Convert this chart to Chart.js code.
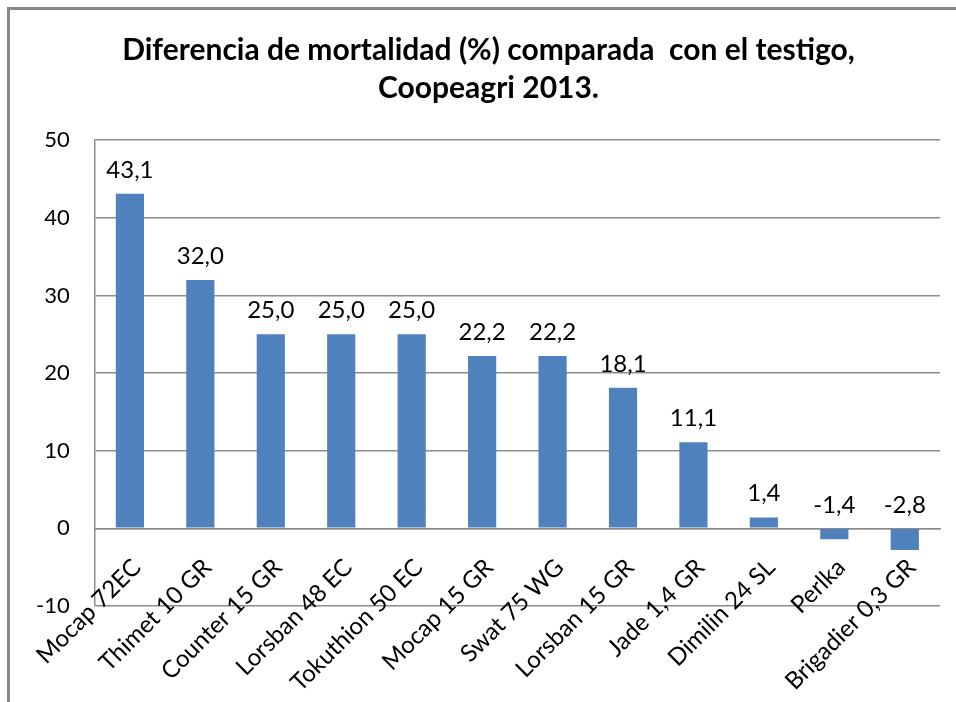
<!DOCTYPE html>
<html>
<head>
<meta charset="utf-8">
<script src="https://cdn.jsdelivr.net/npm/chart.js@4/dist/chart.umd.min.js"></script>
<style>
  html, body { margin: 0; padding: 0; background: #fff; }
  #wrap { position: relative; width: 956px; height: 702px; overflow: hidden; }
  #frame { position: absolute; left: 7px; top: 7px; width: 1000px; height: 800px;
           border-left: 3px solid #878787; border-top: 3px solid #878787; }
  canvas { position: absolute; left: 0; top: 0; }
</style>
</head>
<body>
<div id="wrap">
  <div id="frame"></div>
  <canvas id="c" width="956" height="702"></canvas>
</div>
<script>
const categories = ["Mocap 72EC", "Thimet 10 GR", "Counter 15 GR", "Lorsban 48 EC", "Tokuthion 50 EC",
  "Mocap 15 GR", "Swat 75 WG", "Lorsban 15 GR", "Jade 1,4 GR", "Dimilin 24 SL", "Perlka", "Brigadier 0,3 GR"];
const mortalityDiff = [43.1, 32.0, 25.0, 25.0, 25.0, 22.2, 22.2, 18.1, 11.1, 1.4, -1.4, -2.8];
const titleLines = ["Diferencia de mortalidad (%) comparada  con el testigo,", "Coopeagri 2013."];
const yMin = -10, yMax = 50, yStep = 10;

const fmt = v => v.toFixed(1).replace('.', ',');

const valueLabels = {
  id: 'valueLabels',
  afterDatasetsDraw(chart) {
    const ctx = chart.ctx;
    const meta = chart.getDatasetMeta(0);
    ctx.save();
    ctx.font = '24px Lato';
    ctx.fillStyle = '#000';
    ctx.textAlign = 'center';
    ctx.textBaseline = 'middle';
    meta.data.forEach((el, i) => {
      const v = chart.data.datasets[0].data[i];
      const top = Math.min(el.y, el.base);
      ctx.fillText(fmt(v), el.x, top - 24);
    });
    ctx.restore();
  }
};

// category labels, rotated 45°, hung from the zero line like the original
const categoryLabels = {
  id: 'categoryLabels',
  afterDraw(chart) {
    const ctx = chart.ctx;
    const xs = chart.scales.x, ys = chart.scales.y;
    const y0 = ys.getPixelForValue(0);
    ctx.save();
    ctx.font = '24px Lato';
    ctx.fillStyle = '#000';
    ctx.textAlign = 'right';
    ctx.textBaseline = 'middle';
    chart.data.labels.forEach((lab, i) => {
      const x = xs.getPixelForValue(i);
      ctx.save();
      ctx.translate(x + 7, y0 + 35);
      ctx.rotate(-Math.PI / 4);
      ctx.fillText(lab, 0, 0);
      ctx.restore();
    });
    ctx.restore();
  }
};

new Chart(document.getElementById('c'), {
  type: 'bar',
  data: {
    labels: categories,
    datasets: [{
      data: mortalityDiff,
      backgroundColor: '#4F81BD',
      barPercentage: 0.4,
      categoryPercentage: 1.0
    }]
  },
  options: {
    responsive: false,
    animation: false,
    events: [],
    layout: { padding: { left: 37, right: 16, top: 0, bottom: 96 } },
    plugins: {
      legend: { display: false },
      tooltip: { enabled: false },
      title: {
        display: true,
        text: titleLines,
        color: '#000',
        font: { family: 'Lato', size: 30, weight: 'bold', lineHeight: 1.27 },
        padding: { top: 31, bottom: 33 }
      }
    },
    scales: {
      x: {
        position: { y: 0 },
        grid: { display: false, drawTicks: false },
        border: { display: true, color: '#8c8c8c', width: 1.5 },
        ticks: { display: false }
      },
      y: {
        min: yMin, max: yMax,
        grid: { color: '#8c8c8c', lineWidth: 1.5, drawTicks: false },
        border: { display: true, color: '#8c8c8c', width: 1.5 },
        ticks: {
          stepSize: yStep,
          color: '#000',
          font: { family: 'Lato', size: 22 },
          padding: 25
        },
        afterFit(scale) { scale.width = Math.max(0, scale.width - 26); }
      }
    }
  },
  plugins: [valueLabels, categoryLabels]
});
</script>
</body>
</html>
